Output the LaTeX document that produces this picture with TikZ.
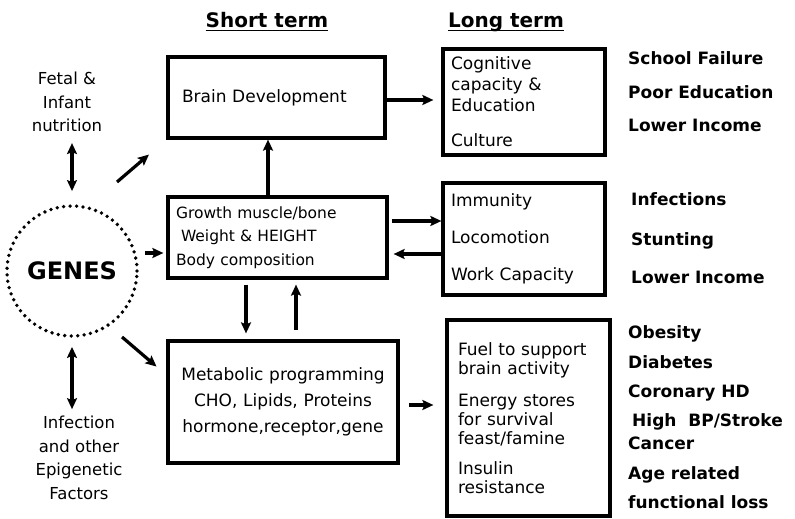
\documentclass[tikz,border=0pt]{standalone}
\usepackage{fontspec}
\setmainfont{DejaVu Sans}
\usetikzlibrary{arrows.meta}
\newcommand{\ulbar}[1]{\setbox0\hbox{#1}\rlap{\rule[-3.5pt]{\wd0}{1.6pt}}\box0}
\tikzset{
  box/.style={draw, line width=3.2pt, inner ysep=0pt, align=left, font=\fontsize{17}{21}\selectfont},
  arr/.style={-{Stealth[length=11pt,width=10pt,inset=2pt]}, line width=3.2pt},
  dbl/.style={{Stealth[length=11pt,width=10pt,inset=2pt]}-{Stealth[length=11pt,width=10pt,inset=2pt]}, line width=3.2pt},
  lbl/.style={font=\fontsize{17}{21}\selectfont\bfseries, anchor=base west, inner sep=0pt},
  head/.style={font=\fontsize{20}{24}\selectfont\bfseries, anchor=base, inner sep=0pt},
  side/.style={font=\fontsize{16.5}{23.5}\selectfont, align=center, inner sep=0pt}
}
\begin{document}
\begin{tikzpicture}
    \def\x{1pt}
    \def\y{-1pt}
    \useasboundingbox (0,0) rectangle (795*\x, 519*\y);
    \node (A0_1) [head] at (267*\x, 28*\y) {\ulbar{Short term}};
    \node (A0_2) [head] at (506*\x, 28*\y) {\ulbar{Long term}};
    \node (A1_0) [side] at (67*\x, 102*\y) {Fetal \&\\Infant\\nutrition};
    \node (A2_0) [draw, circle, minimum size=130pt, inner sep=0pt, line width=3.8pt,
      dash pattern=on 0pt off 6.5pt, line cap=round,
      font=\fontsize{24}{28}\selectfont\bfseries] at (72*\x, 271*\y) {GENES};
    \node (A3_0) [side] at (79*\x, 458*\y) {Infection\\and other\\Epigenetic\\Factors};
    \node (A1_1) [box, minimum height=81pt, text width=189pt, inner xsep=14pt]
      at (276.5*\x, 97.5*\y) {Brain Development};
    \node (A2_1) [box, minimum height=81pt, text width=203pt, inner xsep=8pt,
      font=\fontsize{15.5}{23.5}\selectfont] at (277.5*\x, 237.5*\y)
      {Growth muscle/bone\\\hspace*{5pt}Weight \& HEIGHT\\Body composition};
    \node (A3_1) [box, minimum height=122pt, text width=214pt, inner xsep=8pt, align=center,
      font=\fontsize{17}{26}\selectfont] at (283*\x, 402*\y)
      {Metabolic programming\\CHO, Lipids, Proteins\\hormone,receptor,gene};
    \node (A1_2) [box, minimum height=106pt, text width=146pt, inner xsep=8pt]
      at (524*\x, 102*\y) {Cognitive\\capacity \&\\Education\\[14pt]Culture};
    \node (A2_2) [box, minimum height=112pt, text width=146pt, inner xsep=8pt]
      at (524*\x, 239*\y) {Immunity\\[16pt]Locomotion\\[16pt]Work Capacity};
    \node (A3_2) [box, minimum height=196pt, text width=141pt, inner xsep=11pt,
      font=\fontsize{17}{19}\selectfont] at (528.5*\x, 418*\y)
      {Fuel to support\\brain activity\\[13pt]Energy stores\\for survival\\feast/famine\\[11pt]Insulin\\resistance};
    \node (B1_1) [lbl] at (628*\x, 64*\y) {School Failure};
    \node (B1_2) [lbl] at (628*\x, 98*\y) {Poor Education};
    \node (B1_3) [lbl] at (628*\x, 131*\y) {Lower Income};
    \node (B2_1) [lbl] at (631*\x, 205*\y) {Infections};
    \node (B2_2) [lbl] at (631*\x, 245*\y) {Stunting};
    \node (B2_3) [lbl] at (631*\x, 283*\y) {Lower Income};
    \node (B3_1) [lbl] at (628*\x, 338*\y) {Obesity};
    \node (B3_2) [lbl] at (628*\x, 368*\y) {Diabetes};
    \node (B3_3) [lbl] at (628*\x, 397*\y) {Coronary HD};
    \node (B3_4) [lbl] at (632*\x, 426*\y) {High\ \ BP/Stroke};
    \node (B3_5) [lbl] at (628*\x, 449*\y) {Cancer};
    \node (B3_6) [lbl] at (628*\x, 479*\y) {Age related};
    \node (B3_7) [lbl] at (628*\x, 508*\y) {functional loss};
    \coordinate (Y100) at (0, 100*\y);
    \coordinate (Y221) at (0, 221*\y);
    \coordinate (Y253) at (0, 253*\y);
    \coordinate (Y254) at (0, 254*\y);
    \coordinate (Y405) at (0, 405*\y);
    \coordinate (X246) at (246*\x, 0);
    \coordinate (X268) at (268*\x, 0);
    \coordinate (X296) at (296*\x, 0);
    \coordinate (D1) at (117*\x, 182*\y);
    \coordinate (D2) at (122*\x, 337*\y);
    \path (A2_0.north |- A1_0.south) edge [dbl, shorten <=11pt, shorten >=13pt] (A2_0.north);
    \path (A2_0.south) edge [dbl, shorten <=9pt, shorten >=7pt] (A2_0.south |- A3_0.north);
    \path (D1) edge [arr, shorten >=23pt] (A1_1.south west);
    \path (D2) edge [arr, shorten >=13pt] ([yshift=27pt]A3_1.west);
    \path (A2_0.east |- Y253) edge [arr, shorten <=6pt, shorten >=3pt] (A2_1.west |- Y253);
    \path (A2_1.north -| X268) edge [arr] (A1_1.south -| X268);
    \path (A2_1.south -| X246) edge [arr, shorten <=5pt, shorten >=6pt] (A3_1.north -| X246);
    \path (A3_1.north -| X296) edge [arr, shorten <=9pt, shorten >=5pt] (A2_1.south -| X296);
    \path (A1_1.east |- Y100) edge [arr, shorten >=8pt] (A1_2.west |- Y100);
    \path (A2_1.east |- Y221) edge [arr, shorten <=3pt] (A2_2.west |- Y221);
    \path (A2_2.west |- Y254) edge [arr, shorten >=5pt] (A2_1.east |- Y254);
    \path (A3_1.east |- Y405) edge [arr, shorten <=9pt, shorten >=12pt] (A3_2.west |- Y405);
  \end{tikzpicture}
\end{document}
